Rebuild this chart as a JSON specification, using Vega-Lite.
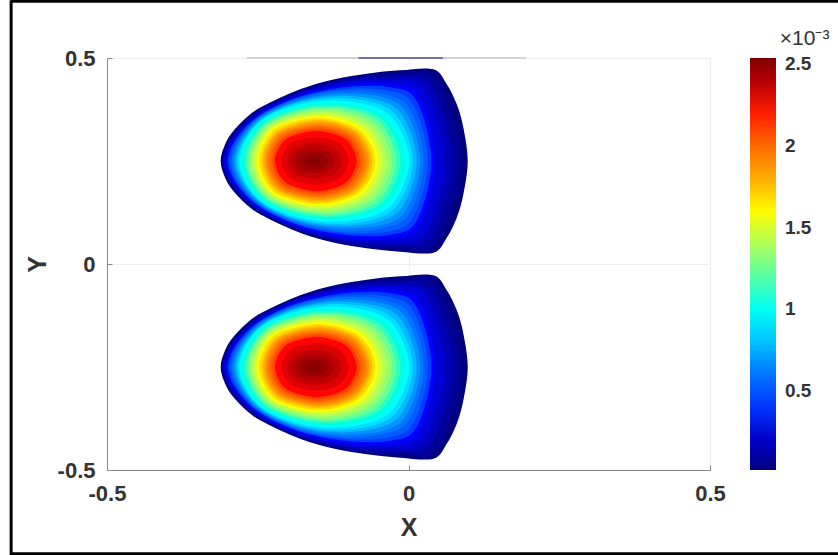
{"$schema":"https://vega.github.io/schema/vega-lite/v6.json","width":603,"height":412,"autosize":"none","padding":{"left":107,"top":58,"right":128,"bottom":85},"background":"white","config":{"view":{"stroke":"#efefef"},"font":"Liberation Sans"},
"datasets":{"bands":[
{"v":0.017,"x":-0.3115,"y":0.25},{"v":0.017,"x":-0.3043,"y":0.29},{"v":0.017,"x":-0.2905,"y":0.323},{"v":0.017,"x":-0.2628,"y":0.363},{"v":0.017,"x":-0.2352,"y":0.3875},{"v":0.017,"x":-0.1799,"y":0.424},{"v":0.017,"x":-0.1246,"y":0.448},{"v":0.017,"x":-0.0693,"y":0.462},{"v":0.017,"x":-0.014,"y":0.47},{"v":0.017,"x":0.0413,"y":0.4725},{"v":0.017,"x":0.0634,"y":0.436},{"v":0.017,"x":0.08,"y":0.3875},{"v":0.017,"x":0.091,"y":0.331},{"v":0.017,"x":0.0982,"y":0.25},{"v":0.017,"x":0.091,"y":0.169},{"v":0.017,"x":0.08,"y":0.1125},{"v":0.017,"x":0.0634,"y":0.064},{"v":0.017,"x":0.0413,"y":0.0275},{"v":0.017,"x":-0.014,"y":0.03},{"v":0.017,"x":-0.0693,"y":0.038},{"v":0.017,"x":-0.1246,"y":0.052},{"v":0.017,"x":-0.1799,"y":0.076},{"v":0.017,"x":-0.2352,"y":0.1125},{"v":0.017,"x":-0.2628,"y":0.137},{"v":0.017,"x":-0.2905,"y":0.177},{"v":0.017,"x":-0.3043,"y":0.21},
{"v":0.08,"x":-0.3097,"y":0.25},{"v":0.08,"x":-0.27,"y":0.349},{"v":0.08,"x":-0.1906,"y":0.415},{"v":0.08,"x":-0.0913,"y":0.454},{"v":0.08,"x":0.0079,"y":0.464},{"v":0.08,"x":0.0317,"y":0.466},{"v":0.08,"x":0.0595,"y":0.416},{"v":0.08,"x":0.0873,"y":0.25},{"v":0.08,"x":0.0595,"y":0.084},{"v":0.08,"x":0.0317,"y":0.034},{"v":0.08,"x":0.0079,"y":0.036},{"v":0.08,"x":-0.0913,"y":0.046},{"v":0.08,"x":-0.1906,"y":0.085},{"v":0.08,"x":-0.27,"y":0.151},
{"v":0.16,"x":-0.3075,"y":0.25},{"v":0.16,"x":-0.2694,"y":0.346},{"v":0.16,"x":-0.1932,"y":0.41},{"v":0.16,"x":-0.098,"y":0.447},{"v":0.16,"x":-0.0028,"y":0.456},{"v":0.16,"x":0.0201,"y":0.455},{"v":0.16,"x":0.0467,"y":0.411},{"v":0.16,"x":0.0734,"y":0.25},{"v":0.16,"x":0.0467,"y":0.089},{"v":0.16,"x":0.0201,"y":0.045},{"v":0.16,"x":-0.0028,"y":0.044},{"v":0.16,"x":-0.098,"y":0.053},{"v":0.16,"x":-0.1932,"y":0.09},{"v":0.16,"x":-0.2694,"y":0.154},
{"v":0.24,"x":-0.3052,"y":0.25},{"v":0.24,"x":-0.2687,"y":0.343},{"v":0.24,"x":-0.1958,"y":0.406},{"v":0.24,"x":-0.1046,"y":0.442},{"v":0.24,"x":-0.0134,"y":0.448},{"v":0.24,"x":0.0084,"y":0.444},{"v":0.24,"x":0.034,"y":0.408},{"v":0.24,"x":0.0595,"y":0.25},{"v":0.24,"x":0.034,"y":0.092},{"v":0.24,"x":0.0084,"y":0.056},{"v":0.24,"x":-0.0134,"y":0.052},{"v":0.24,"x":-0.1046,"y":0.058},{"v":0.24,"x":-0.1958,"y":0.094},{"v":0.24,"x":-0.2687,"y":0.157},
{"v":0.33,"x":-0.3027,"y":0.25},{"v":0.33,"x":-0.268,"y":0.338},{"v":0.33,"x":-0.1987,"y":0.4},{"v":0.33,"x":-0.1121,"y":0.434},{"v":0.33,"x":-0.0254,"y":0.438},{"v":0.33,"x":0.0196,"y":0.404},{"v":0.33,"x":0.0439,"y":0.25},{"v":0.33,"x":0.0196,"y":0.096},{"v":0.33,"x":-0.0254,"y":0.062},{"v":0.33,"x":-0.1121,"y":0.066},{"v":0.33,"x":-0.1987,"y":0.1},{"v":0.33,"x":-0.268,"y":0.162},
{"v":0.42,"x":-0.2995,"y":0.25},{"v":0.42,"x":-0.2658,"y":0.339},{"v":0.42,"x":-0.1983,"y":0.397},{"v":0.42,"x":-0.114,"y":0.428},{"v":0.42,"x":-0.0297,"y":0.429},{"v":0.42,"x":0.0142,"y":0.394},{"v":0.42,"x":0.0378,"y":0.25},{"v":0.42,"x":0.0142,"y":0.106},{"v":0.42,"x":-0.0297,"y":0.071},{"v":0.42,"x":-0.114,"y":0.072},{"v":0.42,"x":-0.1983,"y":0.103},{"v":0.42,"x":-0.2658,"y":0.161},
{"v":0.51,"x":-0.2964,"y":0.25},{"v":0.51,"x":-0.2636,"y":0.338},{"v":0.51,"x":-0.198,"y":0.396},{"v":0.51,"x":-0.116,"y":0.423},{"v":0.51,"x":-0.0339,"y":0.421},{"v":0.51,"x":0.0087,"y":0.384},{"v":0.51,"x":0.0317,"y":0.25},{"v":0.51,"x":0.0087,"y":0.116},{"v":0.51,"x":-0.0339,"y":0.079},{"v":0.51,"x":-0.116,"y":0.077},{"v":0.51,"x":-0.198,"y":0.104},{"v":0.51,"x":-0.2636,"y":0.162},
{"v":0.6,"x":-0.2932,"y":0.25},{"v":0.6,"x":-0.2613,"y":0.339},{"v":0.6,"x":-0.1976,"y":0.393},{"v":0.6,"x":-0.1179,"y":0.419},{"v":0.6,"x":-0.0382,"y":0.412},{"v":0.6,"x":0.0033,"y":0.374},{"v":0.6,"x":0.0256,"y":0.25},{"v":0.6,"x":0.0033,"y":0.126},{"v":0.6,"x":-0.0382,"y":0.088},{"v":0.6,"x":-0.1179,"y":0.081},{"v":0.6,"x":-0.1976,"y":0.107},{"v":0.6,"x":-0.2613,"y":0.161},
{"v":0.69,"x":-0.2901,"y":0.25},{"v":0.69,"x":-0.2591,"y":0.339},{"v":0.69,"x":-0.1972,"y":0.39},{"v":0.69,"x":-0.1198,"y":0.413},{"v":0.69,"x":-0.0423,"y":0.405},{"v":0.69,"x":-0.0021,"y":0.364},{"v":0.69,"x":0.0196,"y":0.25},{"v":0.69,"x":-0.0021,"y":0.136},{"v":0.69,"x":-0.0423,"y":0.095},{"v":0.69,"x":-0.1198,"y":0.087},{"v":0.69,"x":-0.1972,"y":0.11},{"v":0.69,"x":-0.2591,"y":0.161},
{"v":0.78,"x":-0.2869,"y":0.25},{"v":0.78,"x":-0.2569,"y":0.337},{"v":0.78,"x":-0.1968,"y":0.388},{"v":0.78,"x":-0.1217,"y":0.408},{"v":0.78,"x":-0.0466,"y":0.396},{"v":0.78,"x":-0.0075,"y":0.355},{"v":0.78,"x":0.0135,"y":0.25},{"v":0.78,"x":-0.0075,"y":0.145},{"v":0.78,"x":-0.0466,"y":0.104},{"v":0.78,"x":-0.1217,"y":0.092},{"v":0.78,"x":-0.1968,"y":0.112},{"v":0.78,"x":-0.2569,"y":0.163},
{"v":0.87,"x":-0.2837,"y":0.25},{"v":0.87,"x":-0.2546,"y":0.337},{"v":0.87,"x":-0.1964,"y":0.385},{"v":0.87,"x":-0.1236,"y":0.403},{"v":0.87,"x":-0.0508,"y":0.389},{"v":0.87,"x":-0.013,"y":0.346},{"v":0.87,"x":0.0074,"y":0.25},{"v":0.87,"x":-0.013,"y":0.154},{"v":0.87,"x":-0.0508,"y":0.111},{"v":0.87,"x":-0.1236,"y":0.097},{"v":0.87,"x":-0.1964,"y":0.115},{"v":0.87,"x":-0.2546,"y":0.163},
{"v":0.96,"x":-0.2806,"y":0.25},{"v":0.96,"x":-0.2524,"y":0.337},{"v":0.96,"x":-0.196,"y":0.381},{"v":0.96,"x":-0.1256,"y":0.397},{"v":0.96,"x":-0.0551,"y":0.381},{"v":0.96,"x":-0.0184,"y":0.338},{"v":0.96,"x":0.0013,"y":0.25},{"v":0.96,"x":-0.0184,"y":0.162},{"v":0.96,"x":-0.0551,"y":0.119},{"v":0.96,"x":-0.1256,"y":0.103},{"v":0.96,"x":-0.196,"y":0.119},{"v":0.96,"x":-0.2524,"y":0.163},
{"v":1.05,"x":-0.2765,"y":0.25},{"v":1.05,"x":-0.2495,"y":0.335},{"v":1.05,"x":-0.1954,"y":0.376},{"v":1.05,"x":-0.1277,"y":0.392},{"v":1.05,"x":-0.0601,"y":0.375},{"v":1.05,"x":-0.0249,"y":0.334},{"v":1.05,"x":-0.006,"y":0.25},{"v":1.05,"x":-0.0249,"y":0.166},{"v":1.05,"x":-0.0601,"y":0.125},{"v":1.05,"x":-0.1277,"y":0.108},{"v":1.05,"x":-0.1954,"y":0.124},{"v":1.05,"x":-0.2495,"y":0.165},
{"v":1.14,"x":-0.2724,"y":0.25},{"v":1.14,"x":-0.2465,"y":0.333},{"v":1.14,"x":-0.1947,"y":0.373},{"v":1.14,"x":-0.13,"y":0.386},{"v":1.14,"x":-0.0652,"y":0.369},{"v":1.14,"x":-0.0315,"y":0.329},{"v":1.14,"x":-0.0134,"y":0.25},{"v":1.14,"x":-0.0315,"y":0.171},{"v":1.14,"x":-0.0652,"y":0.131},{"v":1.14,"x":-0.13,"y":0.114},{"v":1.14,"x":-0.1947,"y":0.127},{"v":1.14,"x":-0.2465,"y":0.167},
{"v":1.23,"x":-0.2682,"y":0.25},{"v":1.23,"x":-0.2434,"y":0.331},{"v":1.23,"x":-0.194,"y":0.368},{"v":1.23,"x":-0.1321,"y":0.381},{"v":1.23,"x":-0.0702,"y":0.364},{"v":1.23,"x":-0.038,"y":0.325},{"v":1.23,"x":-0.0207,"y":0.25},{"v":1.23,"x":-0.038,"y":0.175},{"v":1.23,"x":-0.0702,"y":0.136},{"v":1.23,"x":-0.1321,"y":0.119},{"v":1.23,"x":-0.194,"y":0.132},{"v":1.23,"x":-0.2434,"y":0.169},
{"v":1.32,"x":-0.2641,"y":0.25},{"v":1.32,"x":-0.2405,"y":0.328},{"v":1.32,"x":-0.1933,"y":0.363},{"v":1.32,"x":-0.1342,"y":0.376},{"v":1.32,"x":-0.0752,"y":0.357},{"v":1.32,"x":-0.0445,"y":0.32},{"v":1.32,"x":-0.028,"y":0.25},{"v":1.32,"x":-0.0445,"y":0.18},{"v":1.32,"x":-0.0752,"y":0.143},{"v":1.32,"x":-0.1342,"y":0.124},{"v":1.32,"x":-0.1933,"y":0.137},{"v":1.32,"x":-0.2405,"y":0.172},
{"v":1.41,"x":-0.26,"y":0.25},{"v":1.41,"x":-0.2375,"y":0.326},{"v":1.41,"x":-0.1926,"y":0.359},{"v":1.41,"x":-0.1364,"y":0.37},{"v":1.41,"x":-0.0802,"y":0.352},{"v":1.41,"x":-0.051,"y":0.316},{"v":1.41,"x":-0.0353,"y":0.25},{"v":1.41,"x":-0.051,"y":0.184},{"v":1.41,"x":-0.0802,"y":0.148},{"v":1.41,"x":-0.1364,"y":0.13},{"v":1.41,"x":-0.1926,"y":0.141},{"v":1.41,"x":-0.2375,"y":0.174},
{"v":1.5,"x":-0.2559,"y":0.25},{"v":1.5,"x":-0.2346,"y":0.323},{"v":1.5,"x":-0.1919,"y":0.354},{"v":1.5,"x":-0.1386,"y":0.365},{"v":1.5,"x":-0.0853,"y":0.346},{"v":1.5,"x":-0.0576,"y":0.312},{"v":1.5,"x":-0.0427,"y":0.25},{"v":1.5,"x":-0.0576,"y":0.188},{"v":1.5,"x":-0.0853,"y":0.154},{"v":1.5,"x":-0.1386,"y":0.135},{"v":1.5,"x":-0.1919,"y":0.146},{"v":1.5,"x":-0.2346,"y":0.177},
{"v":1.59,"x":-0.2518,"y":0.25},{"v":1.59,"x":-0.2316,"y":0.321},{"v":1.59,"x":-0.1913,"y":0.349},{"v":1.59,"x":-0.1408,"y":0.359},{"v":1.59,"x":-0.0904,"y":0.341},{"v":1.59,"x":-0.0641,"y":0.308},{"v":1.59,"x":-0.05,"y":0.25},{"v":1.59,"x":-0.0641,"y":0.192},{"v":1.59,"x":-0.0904,"y":0.159},{"v":1.59,"x":-0.1408,"y":0.141},{"v":1.59,"x":-0.1913,"y":0.151},{"v":1.59,"x":-0.2316,"y":0.179},
{"v":1.68,"x":-0.2475,"y":0.25},{"v":1.68,"x":-0.2283,"y":0.318},{"v":1.68,"x":-0.1898,"y":0.345},{"v":1.68,"x":-0.1417,"y":0.354},{"v":1.68,"x":-0.0936,"y":0.336},{"v":1.68,"x":-0.0686,"y":0.305},{"v":1.68,"x":-0.0551,"y":0.25},{"v":1.68,"x":-0.0686,"y":0.195},{"v":1.68,"x":-0.0936,"y":0.164},{"v":1.68,"x":-0.1417,"y":0.146},{"v":1.68,"x":-0.1898,"y":0.155},{"v":1.68,"x":-0.2283,"y":0.182},
{"v":1.77,"x":-0.2431,"y":0.25},{"v":1.77,"x":-0.2248,"y":0.314},{"v":1.77,"x":-0.1883,"y":0.34},{"v":1.77,"x":-0.1426,"y":0.349},{"v":1.77,"x":-0.0969,"y":0.332},{"v":1.77,"x":-0.0731,"y":0.302},{"v":1.77,"x":-0.0603,"y":0.25},{"v":1.77,"x":-0.0731,"y":0.198},{"v":1.77,"x":-0.0969,"y":0.168},{"v":1.77,"x":-0.1426,"y":0.151},{"v":1.77,"x":-0.1883,"y":0.16},{"v":1.77,"x":-0.2248,"y":0.186},
{"v":1.86,"x":-0.2388,"y":0.25},{"v":1.86,"x":-0.2215,"y":0.311},{"v":1.86,"x":-0.1868,"y":0.335},{"v":1.86,"x":-0.1434,"y":0.344},{"v":1.86,"x":-0.1001,"y":0.328},{"v":1.86,"x":-0.0775,"y":0.3},{"v":1.86,"x":-0.0654,"y":0.25},{"v":1.86,"x":-0.0775,"y":0.2},{"v":1.86,"x":-0.1001,"y":0.172},{"v":1.86,"x":-0.1434,"y":0.156},{"v":1.86,"x":-0.1868,"y":0.165},{"v":1.86,"x":-0.2215,"y":0.189},
{"v":1.95,"x":-0.2344,"y":0.25},{"v":1.95,"x":-0.218,"y":0.307},{"v":1.95,"x":-0.1853,"y":0.33},{"v":1.95,"x":-0.1443,"y":0.338},{"v":1.95,"x":-0.1034,"y":0.323},{"v":1.95,"x":-0.0821,"y":0.297},{"v":1.95,"x":-0.0706,"y":0.25},{"v":1.95,"x":-0.0821,"y":0.203},{"v":1.95,"x":-0.1034,"y":0.177},{"v":1.95,"x":-0.1443,"y":0.162},{"v":1.95,"x":-0.1853,"y":0.17},{"v":1.95,"x":-0.218,"y":0.193},
{"v":2.04,"x":-0.2301,"y":0.25},{"v":2.04,"x":-0.2147,"y":0.304},{"v":2.04,"x":-0.1838,"y":0.326},{"v":2.04,"x":-0.1452,"y":0.333},{"v":2.04,"x":-0.1066,"y":0.319},{"v":2.04,"x":-0.0865,"y":0.294},{"v":2.04,"x":-0.0757,"y":0.25},{"v":2.04,"x":-0.0865,"y":0.206},{"v":2.04,"x":-0.1066,"y":0.181},{"v":2.04,"x":-0.1452,"y":0.167},{"v":2.04,"x":-0.1838,"y":0.174},{"v":2.04,"x":-0.2147,"y":0.196},
{"v":2.13,"x":-0.2257,"y":0.25},{"v":2.13,"x":-0.2112,"y":0.301},{"v":2.13,"x":-0.1823,"y":0.321},{"v":2.13,"x":-0.1461,"y":0.328},{"v":2.13,"x":-0.1099,"y":0.315},{"v":2.13,"x":-0.091,"y":0.291},{"v":2.13,"x":-0.0809,"y":0.25},{"v":2.13,"x":-0.091,"y":0.209},{"v":2.13,"x":-0.1099,"y":0.185},{"v":2.13,"x":-0.1461,"y":0.172},{"v":2.13,"x":-0.1823,"y":0.179},{"v":2.13,"x":-0.2112,"y":0.199},
{"v":2.22,"x":-0.2214,"y":0.25},{"v":2.22,"x":-0.2079,"y":0.297},{"v":2.22,"x":-0.1808,"y":0.316},{"v":2.22,"x":-0.147,"y":0.323},{"v":2.22,"x":-0.1131,"y":0.31},{"v":2.22,"x":-0.0955,"y":0.289},{"v":2.22,"x":-0.086,"y":0.25},{"v":2.22,"x":-0.0955,"y":0.211},{"v":2.22,"x":-0.1131,"y":0.19},{"v":2.22,"x":-0.147,"y":0.177},{"v":2.22,"x":-0.1808,"y":0.184},{"v":2.22,"x":-0.2079,"y":0.203},
{"v":2.3,"x":-0.2104,"y":0.25},{"v":2.3,"x":-0.1993,"y":0.287},{"v":2.3,"x":-0.1771,"y":0.302},{"v":2.3,"x":-0.1493,"y":0.307},{"v":2.3,"x":-0.1215,"y":0.298},{"v":2.3,"x":-0.1071,"y":0.28},{"v":2.3,"x":-0.0993,"y":0.25},{"v":2.3,"x":-0.1071,"y":0.22},{"v":2.3,"x":-0.1215,"y":0.202},{"v":2.3,"x":-0.1493,"y":0.193},{"v":2.3,"x":-0.1771,"y":0.198},{"v":2.3,"x":-0.1993,"y":0.213},
{"v":2.37,"x":-0.2,"y":0.25},{"v":2.37,"x":-0.1911,"y":0.278},{"v":2.37,"x":-0.1734,"y":0.289},{"v":2.37,"x":-0.1513,"y":0.293},{"v":2.37,"x":-0.1291,"y":0.286},{"v":2.37,"x":-0.1176,"y":0.273},{"v":2.37,"x":-0.1114,"y":0.25},{"v":2.37,"x":-0.1176,"y":0.227},{"v":2.37,"x":-0.1291,"y":0.214},{"v":2.37,"x":-0.1513,"y":0.207},{"v":2.37,"x":-0.1734,"y":0.211},{"v":2.37,"x":-0.1911,"y":0.222},
{"v":2.43,"x":-0.19,"y":0.25},{"v":2.43,"x":-0.1833,"y":0.27},{"v":2.43,"x":-0.17,"y":0.278},{"v":2.43,"x":-0.1533,"y":0.28},{"v":2.43,"x":-0.1366,"y":0.275},{"v":2.43,"x":-0.1279,"y":0.266},{"v":2.43,"x":-0.1232,"y":0.25},{"v":2.43,"x":-0.1279,"y":0.234},{"v":2.43,"x":-0.1366,"y":0.225},{"v":2.43,"x":-0.1533,"y":0.22},{"v":2.43,"x":-0.17,"y":0.222},{"v":2.43,"x":-0.1833,"y":0.23},
{"v":2.48,"x":-0.18,"y":0.25},{"v":2.48,"x":-0.1754,"y":0.263},{"v":2.48,"x":-0.1661,"y":0.268},{"v":2.48,"x":-0.1544,"y":0.27},{"v":2.48,"x":-0.1428,"y":0.267},{"v":2.48,"x":-0.1368,"y":0.261},{"v":2.48,"x":-0.1335,"y":0.25},{"v":2.48,"x":-0.1368,"y":0.239},{"v":2.48,"x":-0.1428,"y":0.233},{"v":2.48,"x":-0.1544,"y":0.23},{"v":2.48,"x":-0.1661,"y":0.232},{"v":2.48,"x":-0.1754,"y":0.237},
{"v":2.52,"x":-0.1689,"y":0.25},{"v":2.52,"x":-0.1667,"y":0.256},{"v":2.52,"x":-0.1623,"y":0.259},{"v":2.52,"x":-0.1567,"y":0.26},{"v":2.52,"x":-0.1512,"y":0.258},{"v":2.52,"x":-0.1483,"y":0.255},{"v":2.52,"x":-0.1468,"y":0.25},{"v":2.52,"x":-0.1483,"y":0.245},{"v":2.52,"x":-0.1512,"y":0.242},{"v":2.52,"x":-0.1567,"y":0.24},{"v":2.52,"x":-0.1623,"y":0.241},{"v":2.52,"x":-0.1667,"y":0.244}
],
"frame":[{"x":-0.659,"x2":-0.659,"y":-0.71,"y2":0.64},{"x":-0.659,"x2":0.73,"y":0.638,"y2":0.638},{"x":-0.659,"x2":0.73,"y":-0.703,"y2":-0.703}],
"top":[{"x":-0.268,"x2":0.195,"y":0.5,"y2":0.5,"c":"#c5c5cc"},{"x":-0.083,"x2":0.057,"y":0.5,"y2":0.5,"c":"#55558f"}]},
"layer":[
{"data":{"name":"bands"},"transform":[{"window":[{"op":"row_number","as":"i"}]}],"mark":{"type":"line","filled":true,"interpolate":"cardinal-closed","strokeWidth":0},"encoding":{
"x":{"field":"x","type":"quantitative","scale":{"domain":[-0.5,0.5],"nice":false},"axis":{"values":[-0.5,0,0.5],"labelExpr":"'' + datum.value","labelFlush":false,"grid":true,"gridColor":"#eeeeee","domainColor":"#888888","tickColor":"#888888","tickSize":-5,"labelFont":"Liberation Sans","labelFontWeight":"bold","labelFontSize":22,"labelColor":"#333333","labelPadding":18,"title":"X","titleFont":"Liberation Sans","titleFontSize":25,"titleFontWeight":"bold","titleColor":"#333333","titlePadding":11}},
"y":{"field":"y","type":"quantitative","scale":{"domain":[-0.5,0.5],"nice":false},"axis":{"values":[-0.5,0,0.5],"labelExpr":"'' + datum.value","labelFlush":false,"grid":true,"gridColor":"#eeeeee","domainColor":"#888888","tickColor":"#888888","tickSize":-5,"labelFont":"Liberation Sans","labelFontWeight":"bold","labelFontSize":22,"labelColor":"#333333","labelPadding":17,"title":"Y","titleFont":"Liberation Sans","titleFontSize":25,"titleFontWeight":"bold","titleColor":"#333333","titlePadding":7}},
"detail":{"field":"v"},
"order":{"field":"i","type":"quantitative"},
"fill":{"field":"v","type":"quantitative","scale":{"domain":[0.017,0.332,0.647,0.962,1.277,1.592,1.907,2.222,2.537],"range":["#000080","#0000ff","#0080ff","#00ffff","#80ff80","#ffff00","#ff8000","#ff0000","#800000"]},"legend":{"orient":"none","legendX":643,"legendY":0,"title":null,"values":[0.5,1,1.5,2,2.5],"gradientLength":412,"gradientThickness":26,"gradientStrokeWidth":0,"labelFont":"Liberation Sans","labelFontWeight":"bold","labelFontSize":19,"labelColor":"#333333","labelOffset":9,"labelOverlap":false,"format":"~g"}}}},
{"data":{"name":"bands"},"transform":[{"window":[{"op":"row_number","as":"i"}]}],"mark":{"type":"line","filled":true,"interpolate":"cardinal-closed","strokeWidth":0},"encoding":{
"x":{"field":"x","type":"quantitative","axis":null},
"y":{"field":"y","type":"quantitative","scale":{"domain":[0.5,-0.5],"nice":false},"axis":null},
"detail":{"field":"v"},
"order":{"field":"i","type":"quantitative"},
"fill":{"field":"v","type":"quantitative","legend":null}}},
{"data":{"name":"top"},"mark":{"type":"rule","strokeWidth":1.5},"encoding":{"x":{"field":"x","type":"quantitative","axis":null},"x2":{"field":"x2"},"y":{"field":"y","type":"quantitative","scale":{"domain":[-0.5,0.5],"nice":false},"axis":null},"stroke":{"field":"c","type":"nominal","scale":null}}},
{"data":{"name":"frame"},"mark":{"type":"rule","strokeWidth":3,"color":"#000000"},"encoding":{"x":{"field":"x","type":"quantitative","axis":null},"x2":{"field":"x2"},"y":{"field":"y","type":"quantitative","scale":{"domain":[-0.5,0.5],"nice":false},"axis":null},"y2":{"field":"y2"}}},
{"data":{"values":[{"x":0.657,"y":0.546,"label":"×10⁻³"}]},"mark":{"type":"text","font":"Liberation Sans","fontSize":21,"color":"#333333"},"encoding":{"x":{"field":"x","type":"quantitative","axis":null},"y":{"field":"y","type":"quantitative","scale":{"domain":[-0.5,0.5],"nice":false},"axis":null},"text":{"field":"label"}}}
],
"resolve":{"scale":{"y":"independent"},"axis":{"y":"independent","x":"independent"}}}
